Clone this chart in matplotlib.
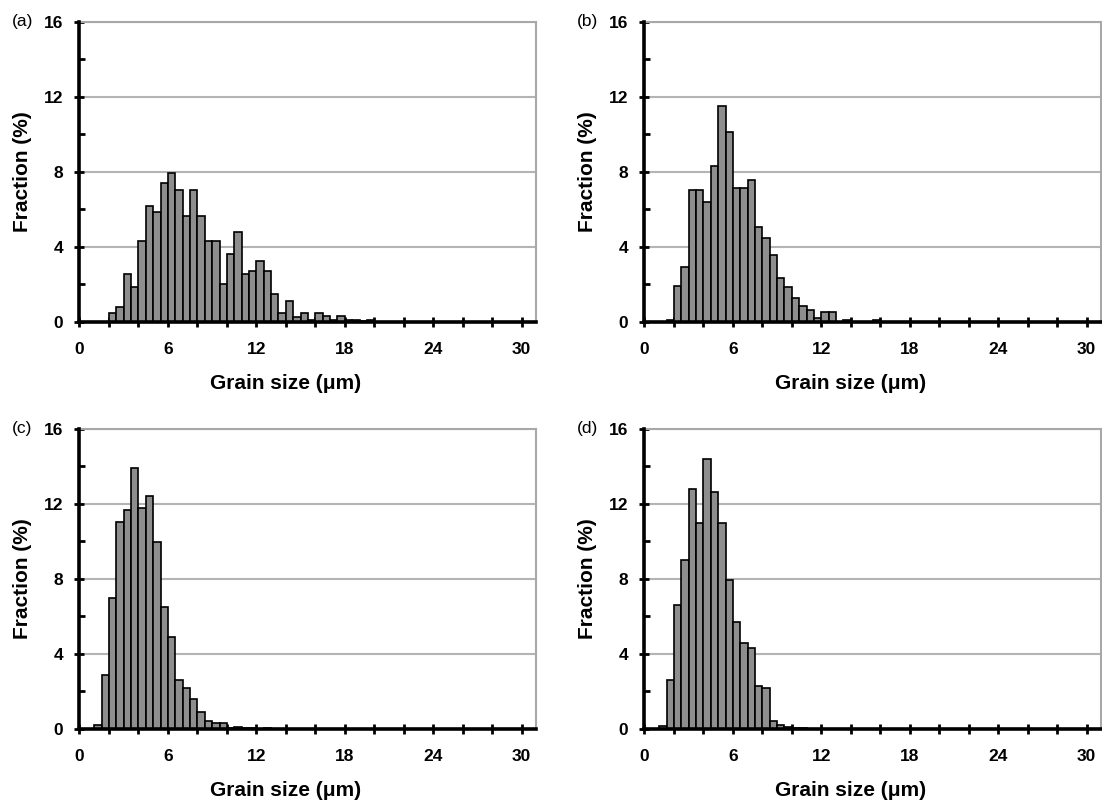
import numpy as np
import matplotlib
matplotlib.use("Agg")
import matplotlib.pyplot as plt

plt.rcParams['font.family'] = ['Liberation Sans', 'DejaVu Sans']

# bin lower edges (um), bins are 0.5 um wide
grain_bins = np.arange(1.0, 21.0, 0.5)

frac_a = [0, 0, 0.46, 0.8, 2.55, 1.85, 4.3, 6.2, 5.87, 7.4,
          7.95, 7.06, 5.67, 7.06, 5.67, 4.3, 4.3, 2.03, 3.6, 4.8,
          2.55, 2.72, 3.24, 2.7, 1.49, 0.46, 1.14, 0.28, 0.46, 0.12,
          0.46, 0.3, 0.08, 0.32, 0.08, 0.13, 0.05, 0.13, 0, 0]
frac_b = [0, 0.1, 1.9, 2.93, 7.02, 7.02, 6.38, 8.34, 11.52, 10.15,
          7.15, 7.15, 7.59, 5.05, 4.46, 3.56, 2.35, 1.87, 1.28, 0.84,
          0.66, 0.23, 0.53, 0.53, 0, 0.1, 0, 0, 0, 0.1,
          0, 0, 0, 0, 0, 0, 0, 0, 0, 0]
frac_c = [0.2, 2.9, 7.0, 11.06, 11.7, 13.92, 11.78, 12.42, 9.95, 6.5,
          4.9, 2.6, 2.2, 1.6, 0.9, 0.4, 0.3, 0.3, 0.05, 0.1,
          0.05, 0.05, 0, 0.03, 0, 0, 0, 0, 0, 0,
          0, 0, 0, 0, 0, 0, 0, 0, 0, 0]
frac_d = [0.15, 2.6, 6.6, 9.0, 12.8, 11.0, 14.4, 12.65, 10.97, 7.93,
          5.7, 4.6, 4.3, 2.3, 2.2, 0.4, 0.2, 0.1, 0.05, 0.03,
          0, 0, 0, 0, 0, 0, 0, 0, 0, 0,
          0, 0, 0, 0, 0, 0, 0, 0, 0, 0]

panels = ['(a)', '(b)', '(c)', '(d)']
series = [frac_a, frac_b, frac_c, frac_d]
x_labels = [0, 6, 12, 18, 24, 30]
y_labels = [0, 4, 8, 12, 16]

fig = plt.figure(figsize=(11.02, 8.10), dpi=100)
boxes = [[0.0721, 0.6025, 0.4147, 0.3704],
         [0.5848, 0.6025, 0.4147, 0.3704],
         [0.0721, 0.1000, 0.4147, 0.3704],
         [0.5848, 0.1000, 0.4147, 0.3704]]

for i in range(4):
    ax = fig.add_axes(boxes[i])
    ax.bar(grain_bins, series[i], width=0.5, align='edge',
           color='#8e8e8e', edgecolor='black', linewidth=1.2, zorder=2)
    ax.set_xlim(0, 31)
    ax.set_ylim(0, 16)
    ax.set_axisbelow(True)
    ax.yaxis.grid(True, color='#b4b4b4', linewidth=1.5)

    ax.set_xticks(x_labels)
    ax.set_xticks(range(0, 31, 2), minor=True)
    ax.set_yticks(y_labels)
    ax.set_yticks([2, 6, 10, 14], minor=True)
    ax.tick_params(axis='x', which='both', direction='inout', length=7,
                   width=2, pad=11)
    ax.tick_params(axis='y', which='major', direction='inout', length=7,
                   width=2, pad=8)
    ax.tick_params(axis='y', which='minor', direction='in', length=4, width=2)
    for lab in ax.get_xticklabels() + ax.get_yticklabels():
        lab.set_fontweight('bold')
        lab.set_fontsize(12.5)

    for s in ['left', 'bottom']:
        ax.spines[s].set_linewidth(2.6)
        ax.spines[s].set_color('black')
        ax.spines[s].set_zorder(3)
    for s in ['top', 'right']:
        ax.spines[s].set_linewidth(1.5)
        ax.spines[s].set_color('#a8a8a8')

    ax.set_xlabel('Grain size (\u03bcm)', fontsize=15, fontweight='bold')
    ax.set_ylabel('Fraction (%)', fontsize=15, fontweight='bold')
    ax.xaxis.set_label_coords(0.452, -0.172)
    ax.yaxis.set_label_coords(-0.104, 0.5)

    ax.text(-0.148, 1.0, panels[i], transform=ax.transAxes,
            ha='left', va='center', fontsize=12.5)

fig.savefig('out.png', dpi=100)
